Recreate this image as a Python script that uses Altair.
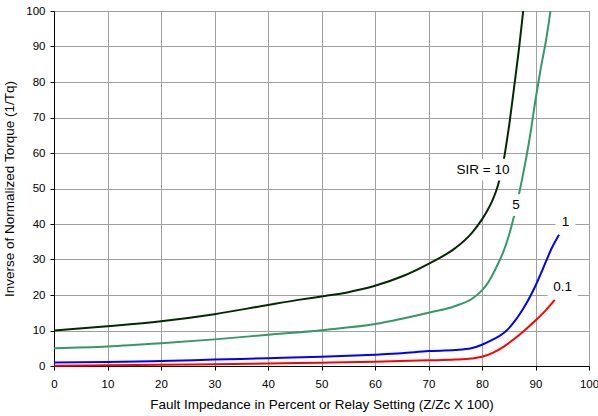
import altair as alt
import pandas as pd

# ---- data ----
x_sir10 = [0, 10, 20, 30, 40, 46, 50, 55, 60, 65, 70, 75, 78, 80, 81, 82, 83, 84, 85, 86, 87, 87.7]
y_sir10 = [10, 11.2, 12.6, 14.6, 17.2, 18.7, 19.6, 20.8, 22.6, 25.2, 28.8, 33.2, 37.3, 41.3, 43.8, 46.8, 51, 57.5, 67, 78.5, 90.5, 100]

x_sir5 = [0, 10, 20, 30, 40, 50, 60, 65, 70, 75, 78, 80, 81, 82, 83, 84, 85, 86, 87, 88, 89, 90, 91, 92, 92.8]
y_sir5 = [5, 5.5, 6.4, 7.5, 8.8, 10.1, 11.8, 13.3, 15.0, 16.9, 18.8, 21.3, 23.2, 25.8, 28.8, 32.2, 36.6, 42.3, 49, 56.5, 65, 75, 84, 92, 100]

x_sir1 = [0, 10, 20, 30, 40, 50, 60, 65, 70, 75, 78, 80, 82, 84, 85, 86, 87, 88, 89, 90, 91, 92, 93, 94.4]
y_sir1 = [1.0, 1.1, 1.4, 1.8, 2.2, 2.6, 3.2, 3.6, 4.2, 4.5, 5.0, 6.0, 7.4, 9.2, 10.6, 12.4, 14.5, 16.9, 19.6, 22.6, 26.0, 29.6, 33.1, 37.0]

x_sir01 = [0, 10, 20, 30, 40, 50, 60, 70, 75, 78, 80, 82, 84, 86, 88, 90, 92, 93.6]
y_sir01 = [0.1, 0.2, 0.35, 0.5, 0.7, 0.95, 1.2, 1.6, 1.8, 2.1, 2.6, 3.7, 5.4, 7.6, 10.1, 12.8, 15.8, 18.6]

series_names = ["SIR=10", "SIR=5", "SIR=1", "SIR=0.1"]
series_colors = ["#002b00", "#339966", "#0000ff", "#ff0000"]

label_text = ["SIR = 10", "5", "1", "0.1"]
label_x = [80.2, 86.36, 95.6, 95.08]
label_y = [55.35, 45.35, 40.65, 22.17]

x_ticks = list(range(0, 101, 10))
y_ticks = list(range(0, 101, 10))

# ---- build tables ----
rows = []
for name, xs_, ys_ in zip(series_names,
                          [x_sir10, x_sir5, x_sir1, x_sir01],
                          [y_sir10, y_sir5, y_sir1, y_sir01]):
    for i, (a, b) in enumerate(zip(xs_, ys_)):
        rows.append({"series": name, "x": a, "y": b, "i": i})
df = pd.DataFrame(rows)
lab = pd.DataFrame({"label": label_text, "x": label_x, "y": label_y})

# white label boxes (style only)
box_paths = [
    "M-0.97,-0.34L0.97,-0.34L0.97,0.34L-0.97,0.34Z",
    "M-0.24,-0.34L0.24,-0.34L0.24,0.34L-0.24,0.34Z",
    "M-0.31,-0.34L0.31,-0.34L0.31,0.34L-0.31,0.34Z",
    "M-0.47,-0.34L0.47,-0.34L0.47,0.34L-0.47,0.34Z",
]

xs = alt.Scale(domain=[0, 100], nice=False, zero=False)
ys = alt.Scale(domain=[0, 100], nice=False, zero=False)
x_axis = alt.Axis(values=x_ticks, labelOverlap=False, labelFlush=False,
                  title="Fault Impedance in Percent or Relay Setting (Z/Zc X 100)")
y_axis = alt.Axis(values=y_ticks, labelOverlap=False, labelFlush=False,
                  title="Inverse of Normalized Torque (1/Tq)")
X = alt.X("x:Q", scale=xs, axis=x_axis)
Y = alt.Y("y:Q", scale=ys, axis=y_axis)

lines = alt.Chart(df).mark_line(interpolate="monotone", strokeWidth=2).encode(
    x=X, y=Y,
    color=alt.Color("series:N", scale=alt.Scale(domain=series_names, range=series_colors),
                    legend=None),
    order=alt.Order("i:Q"),
)

boxes = alt.Chart(lab).mark_point(filled=True, opacity=1, size=4096, fill="white",
                                  strokeWidth=0).encode(
    x=X, y=Y,
    shape=alt.Shape("label:N", scale=alt.Scale(domain=label_text, range=box_paths),
                    legend=None),
)

texts = alt.Chart(lab).mark_text(font="Liberation Sans", fontSize=13.5, color="black",
                                 align="center", baseline="middle").encode(
    x=X, y=Y,
    text="label:N",
)

chart = alt.layer(lines, boxes, texts).properties(
    width=535, height=355,
    autosize=alt.AutoSizeParams(type="none"),
    padding={"left": 54, "top": 11, "right": 9, "bottom": 50},
    background="white",
).configure_view(
    stroke="#993366", strokeWidth=1,
).configure_axis(
    labelFont="Liberation Sans", labelFontSize=11.5, labelColor="black",
    titleFont="Liberation Sans", titleFontSize=13.5, titleFontWeight="normal", titleColor="black",
    domainColor="black", domainWidth=1,
    tickColor="black", tickSize=4, tickWidth=1,
    gridColor="#a0a0a0", gridWidth=1, gridOpacity=1,
).configure_axisX(
    labelPadding=8, titlePadding=8, labelAngle=0,
).configure_axisY(
    labelPadding=5, titlePadding=9,
)

chart.save("out.html", embed_options={"renderer": "svg", "actions": False})
